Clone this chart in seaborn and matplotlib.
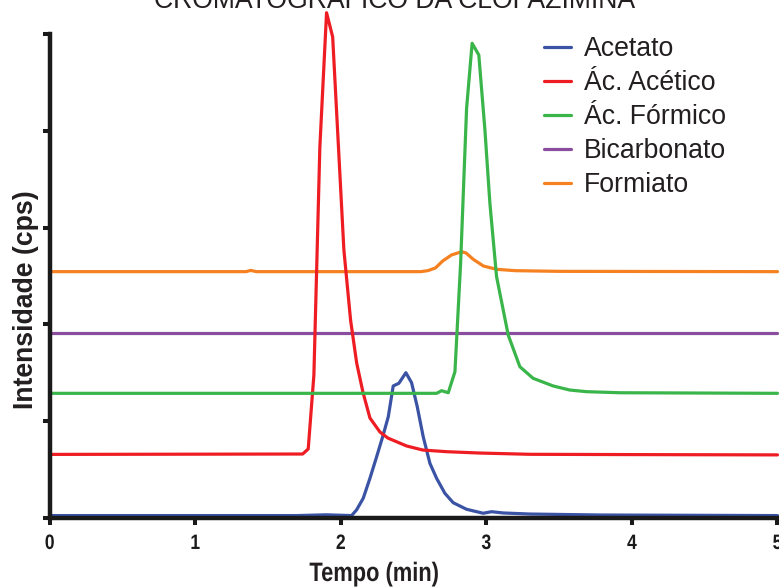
import matplotlib
matplotlib.use("Agg")
import matplotlib.pyplot as plt
import seaborn as sns
import pandas as pd
from matplotlib.patheffects import AbstractPathEffect
from matplotlib.transforms import Affine2D

# ---- data ----
series_names = ["Acetato", "Ác. Acético", "Ác. Fórmico", "Bicarbonato", "Formiato"]
series_colors = ["#3A53A4", "#EE1D23", "#3AB54A", "#8A4D9E", "#F68121"]

acetato_t = [0, 1.7, 1.9, 2.074, 2.108, 2.154, 2.200, 2.246, 2.291, 2.326, 2.360, 2.399,
             2.447, 2.486, 2.525, 2.566, 2.612, 2.658, 2.715, 2.772, 2.864, 2.978, 3.036,
             3.115, 3.298, 3.78, 5.0]
acetato_y = [0.025, 0.025, 0.033, 0.025, 0.083, 0.204, 0.410, 0.633, 0.857, 1.046, 1.364, 1.392,
             1.501, 1.398, 1.150, 0.840, 0.565, 0.410, 0.255, 0.158, 0.090, 0.049, 0.065,
             0.052, 0.041, 0.031, 0.025]

acetico_t = [0, 1.738, 1.776, 1.815, 1.856, 1.902, 1.944, 2.021, 2.067, 2.109, 2.152, 2.200,
             2.269, 2.323, 2.452, 2.564, 2.727, 2.955, 3.3, 4.0, 5.0]
acetico_y = [0.657, 0.661, 0.713, 1.477, 3.833, 5.22, 4.97, 2.77, 2.045, 1.60, 1.30, 1.033,
             0.888, 0.826, 0.744, 0.702, 0.685, 0.671, 0.658, 0.655, 0.652]

formico_t = [0, 2.658, 2.692, 2.738, 2.784, 2.823, 2.864, 2.902, 2.948, 2.990, 3.024, 3.070,
             3.150, 3.230, 3.321, 3.459, 3.573, 3.688, 3.917, 5.0]
formico_y = [1.288, 1.288, 1.315, 1.294, 1.511, 2.631, 4.232, 4.904, 4.783, 4.008, 3.254, 2.493,
             1.890, 1.563, 1.443, 1.364, 1.322, 1.305, 1.294, 1.288]

bicarb_t = [0, 5.0]
bicarb_y = [1.908, 1.908]

formiato_t = [0, 1.35, 1.38, 1.42, 2.55, 2.60, 2.65, 2.70, 2.76, 2.83, 2.86, 2.91, 2.98,
              3.07, 3.20, 3.5, 5.0]
formiato_y = [2.545, 2.545, 2.558, 2.545, 2.545, 2.556, 2.583, 2.655, 2.717, 2.751, 2.738,
              2.672, 2.603, 2.569, 2.555, 2.548, 2.545]

x_ticks = [0, 1, 2, 3, 4, 5]
y_ticks = [0, 1, 2, 3, 4, 5]

title_text = "CROMATOGRÁFICO DA CLOFAZIMINA"
x_label = "Tempo (min)"
y_label = "Intensidade (cps)"


class Condense(AbstractPathEffect):
    """Draw text horizontally condensed about its own centre (narrow font look)."""

    def __init__(self, sx):
        super().__init__()
        self.sx = sx

    def draw_path(self, renderer, gc, tpath, affine, rgbFace=None):
        ext = tpath.get_extents()
        cx = (ext.x0 + ext.x1) / 2
        tr = Affine2D().translate(-cx, 0).scale(self.sx, 1).translate(cx, 0) + affine
        renderer.draw_path(gc, tpath, tr, rgbFace)


# ---- build table ----
frames = []
for name, t, y in zip(series_names,
                      [acetato_t, acetico_t, formico_t, bicarb_t, formiato_t],
                      [acetato_y, acetico_y, formico_y, bicarb_y, formiato_y]):
    frames.append(pd.DataFrame({"t": t, "y": y, "serie": name}))
df = pd.concat(frames, ignore_index=True)

sns.set_style("ticks")
plt.rcParams["font.family"] = ["Liberation Sans", "DejaVu Sans"]

W, H = 779, 588
fig = plt.figure(figsize=(W / 100, H / 100), dpi=100)
x0 = 49.7
ax = fig.add_axes([x0 / W, 70 / H, (W - x0) / W, 518 / H])

palette = dict(zip(series_names, series_colors))
draw_order = ["Bicarbonato", "Formiato", "Acetato", "Ác. Acético", "Ác. Fórmico"]
handles = {}
for name in draw_order:
    sub = df[df["serie"] == name]
    sns.lineplot(data=sub, x="t", y="y", color=palette[name], lw=2.3, ax=ax,
                 estimator=None, sort=False, legend=False)
    handles[name] = ax.lines[-1]

ax.set_xlim(0, 5 * (W - x0) / 727.8)
ax.set_ylim(0, 518 / 96.8)
ax.set_xticks(x_ticks)
ax.set_xticklabels([str(v) for v in x_ticks], fontweight="bold", fontsize=15)
for lab in ax.get_xticklabels():
    lab.set_path_effects([Condense(0.84)])
ax.set_yticks(y_ticks)
ax.set_yticklabels([])
ax.set_xlabel("")
ax.set_ylabel("")
for s in ["top", "right"]:
    ax.spines[s].set_visible(False)
ax.spines["left"].set_bounds(0, 5)
ax.spines["bottom"].set_bounds(0, 5)
for s in ["left", "bottom"]:
    ax.spines[s].set_linewidth(3.2)
    ax.spines[s].set_color("#1a1a1a")
ax.tick_params(axis="both", length=5, width=2.9, color="#1a1a1a", direction="out")
ax.tick_params(axis="x", pad=6.5, labelcolor="#1a1a1a")
ax.patch.set_alpha(0)

leg = ax.legend([handles[n] for n in series_names], series_names,
                loc="upper left", bbox_to_anchor=(544 / W, 1 - 36.0 / H),
                bbox_transform=fig.transFigure, frameon=False,
                fontsize=19.2, handlelength=1.0, handletextpad=0.5,
                labelspacing=0.30, borderpad=0, borderaxespad=0)
for t in leg.get_texts():
    t.set_color("#231f20")

fig.text(395 / W, 1 - 8 / H, title_text, ha="center", va="baseline",
         fontsize=19.2, color="#231f20")
xl = fig.text(374 / W, 1 - 581 / H, x_label, ha="center", va="baseline",
              fontsize=19.2, fontweight="bold", color="#231f20")
xl.set_path_effects([Condense(0.82)])
fig.text(26 / W, 1 - 300 / H, y_label, ha="center", va="center", rotation=90,
         fontsize=19.2, fontweight="bold", color="#231f20")

fig.savefig("out.png", dpi=100)
